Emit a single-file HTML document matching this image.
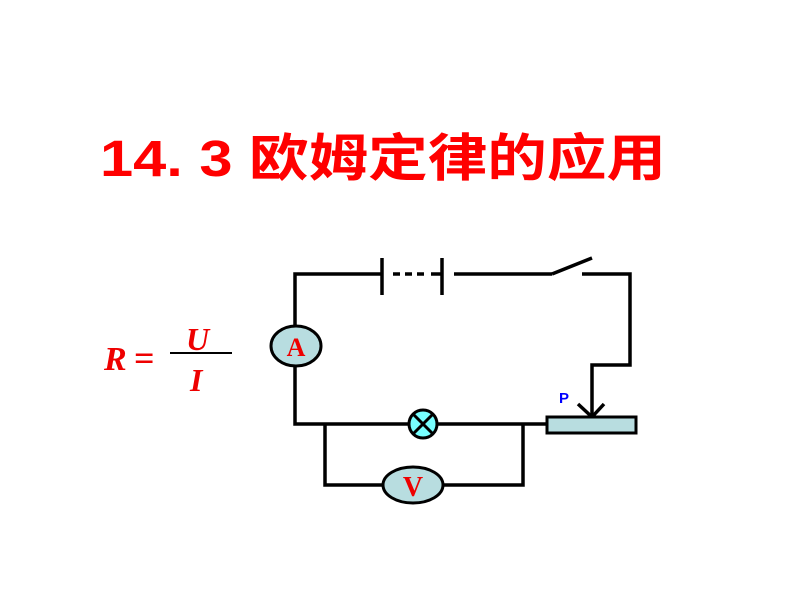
<!DOCTYPE html>
<html><head><meta charset="utf-8"><style>
body{margin:0;background:#fff;width:800px;height:600px;overflow:hidden}
</style></head><body>
<svg width="800" height="600" viewBox="0 0 800 600" xmlns="http://www.w3.org/2000/svg">
<text x="100" y="176" font-family="Liberation Sans, Noto Sans CJK SC, sans-serif" font-weight="bold" font-size="51" fill="#f00" textLength="566" lengthAdjust="spacingAndGlyphs">14. 3 欧姆定律的应用</text>
<g font-family="Liberation Serif, serif" font-style="italic" font-weight="bold" fill="#e00">
<text x="104" y="370" font-size="34">R</text>
<text x="134" y="370" font-size="36" font-style="normal">=</text>
<text x="186" y="350" font-size="32">U</text>
<text x="190" y="391" font-size="32">I</text>
</g>
<line x1="170" y1="353" x2="232" y2="353" stroke="#000" stroke-width="2"/>
<g stroke="#000" stroke-width="3.5" fill="none">
<polyline points="382,274 295,274 295,326"/>
<polyline points="295,366 295,424 412,424"/>
<line x1="438" y1="424" x2="547" y2="424"/>
<polyline points="325,424 325,485 383,485"/>
<polyline points="443,485 523,485 523,424"/>
<line x1="382" y1="258" x2="382" y2="295"/>
<line x1="442" y1="258" x2="442" y2="295"/>
<line x1="442" y1="274" x2="431" y2="274"/>
<line x1="393" y1="274" x2="428" y2="274" stroke-dasharray="7,5"/>
<line x1="454" y1="274" x2="552" y2="274"/>
<line x1="552" y1="274" x2="592" y2="258"/>
<polyline points="582,274 630,274 630,365 592,365 592,416"/>
<line x1="578" y1="404" x2="592" y2="417"/>
<line x1="604" y1="404" x2="592" y2="417"/>
</g>
<rect x="547" y="417" width="89" height="16" fill="#b8dde0" stroke="#000" stroke-width="3"/>
<text x="559" y="403" font-family="Liberation Sans, sans-serif" font-weight="bold" font-size="15" fill="#00f">P</text>
<ellipse cx="296" cy="346" rx="25" ry="20" fill="#b8dde0" stroke="#000" stroke-width="3"/>
<text x="296" y="356" text-anchor="middle" font-family="Liberation Serif, serif" font-weight="bold" font-size="26" fill="#e00">A</text>
<ellipse cx="413" cy="485" rx="30" ry="18" fill="#b8dde0" stroke="#000" stroke-width="3"/>
<text x="413" y="496" text-anchor="middle" font-family="Liberation Serif, serif" font-weight="bold" font-size="28" fill="#e00">V</text>
<circle cx="423" cy="424" r="14" fill="#7ff" stroke="#000" stroke-width="3"/>
<line x1="413" y1="414" x2="433" y2="434" stroke="#000" stroke-width="3"/>
<line x1="433" y1="414" x2="413" y2="434" stroke="#000" stroke-width="3"/>
</svg>
</body></html>
